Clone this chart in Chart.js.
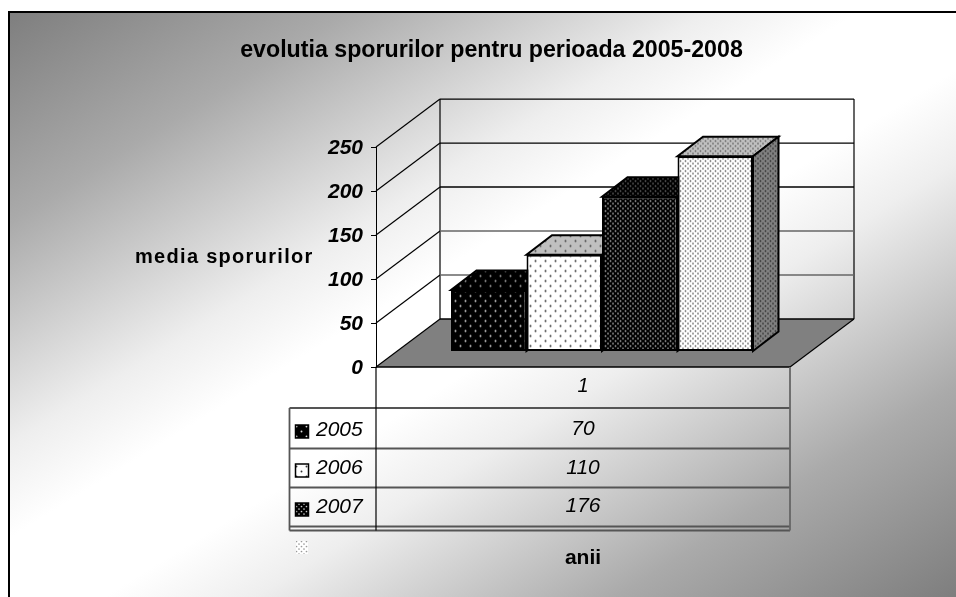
<!DOCTYPE html>
<html><head><meta charset="utf-8">
<style>html,body{margin:0;padding:0;background:#fff}canvas{display:block}</style>
<script src="https://cdn.jsdelivr.net/npm/chart.js@4"></script>
</head><body>
<canvas id="c" width="956" height="597"></canvas>
<script>
const categories = ['1'];
const seriesNames = ['2005', '2006', '2007', '2008'];
const values2005 = [70];
const values2006 = [110];
const values2007 = [176];
const values2008 = [222];
const yTicks = [0, 50, 100, 150, 200, 250];
const titleText = 'evolutia sporurilor pentru perioada 2005-2008';
const yTitle = 'media sporurilor';
const xTitle = 'anii';

const FONT = '"Liberation Sans", Arial, sans-serif';
const WALL = {dx: 64, dy: -48};
const SHIFT = {dx: 19, dy: -15.5};
const DEPTH = {dx: 25.5, dy: -19.5};
const ROWS = {labelX: 316, left: 289.5, divider: 376, right: 790, lines: [408, 448.5, 487.5, 526.5, 530.5]};

function pattern(bg, dot, dense) {
  const period = dense ? 5 : 10, t = document.createElement('canvas');
  t.width = t.height = period;
  const g = t.getContext('2d');
  g.fillStyle = bg; g.fillRect(0, 0, period, period);
  g.fillStyle = dot;
  [[1.5, 1.5], [1.5 + period / 2, 1.5 + period / 2]].forEach(([x, y]) => {
    g.beginPath(); g.arc(x % period, y % period, dense ? 0.85 : 0.95, 0, 7); g.fill();
  });
  return document.createElement('canvas').getContext('2d').createPattern(t, 'repeat');
}
const faces = [
  {front: pattern('#000', '#ddd', false), top: pattern('#000', '#aaa', false), side: pattern('#000', '#aaa', false)},
  {front: pattern('#fff', '#333', false), top: pattern('#c0c0c0', '#444', false), side: pattern('#808080', '#333', false)},
  {front: pattern('#000', '#ccc', true), top: pattern('#000', '#777', true), side: pattern('#000', '#777', true)},
  {front: pattern('#fff', '#444', true), top: pattern('#c0c0c0', '#555', true), side: pattern('#808080', '#222', true)}
];
const palePattern = pattern('#fff', '#999', true);

function poly(ctx, pts, fill, stroke, lw) {
  ctx.beginPath();
  pts.forEach((p, i) => i ? ctx.lineTo(p[0], p[1]) : ctx.moveTo(p[0], p[1]));
  ctx.closePath();
  if (fill) { ctx.fillStyle = fill; ctx.fill(); }
  if (stroke) { ctx.strokeStyle = stroke; ctx.lineWidth = lw || 1; ctx.stroke(); }
}
function line(ctx, x1, y1, x2, y2, color, lw) {
  ctx.beginPath(); ctx.moveTo(x1, y1); ctx.lineTo(x2, y2);
  ctx.strokeStyle = color; ctx.lineWidth = lw || 1; ctx.stroke();
}

const scene = {
  id: 'scene',
  afterLayout(chart) {
    // the original title is centred on the frame, not on the plot area
    chart.titleBlock.left = 26;
    chart.titleBlock.right = 957;
  },
  beforeDraw(chart) {
    const ctx = chart.ctx, W = chart.width, H = chart.height, a = chart.chartArea;
    const y = chart.scales.y;
    ctx.save();
    ctx.fillStyle = '#fff'; ctx.fillRect(0, 0, W, H);
    const g = ctx.createLinearGradient(9, 11, 533.4, 858.5);
    [[0, '#7e7e7e'], [0.18, '#aaaaaa'], [0.37, '#eeeeee'], [0.45, '#ffffff'], [0.55, '#ffffff'], [0.63, '#eeeeee'], [0.82, '#aaaaaa'], [1, '#7e7e7e']]
      .forEach(s => g.addColorStop(s[0], s[1]));
    ctx.fillStyle = g; ctx.fillRect(9, 11, W - 9, H - 11);
    line(ctx, 9, 11, 9, H, '#000', 2);
    line(ctx, 8, 12, W, 12, '#000', 2);
    // floor
    const y0 = y.getPixelForValue(0), yMax = y.getPixelForValue(250);
    poly(ctx, [[a.left, y0], [a.right, y0], [a.right + WALL.dx, y0 + WALL.dy], [a.left + WALL.dx, y0 + WALL.dy]], '#808080');
    // walls
    line(ctx, a.left + WALL.dx, y0 + WALL.dy, a.left + WALL.dx, yMax + WALL.dy, '#000', 1.2);
    line(ctx, a.right + WALL.dx, y0 + WALL.dy, a.right + WALL.dx, yMax + WALL.dy, '#000', 1.2);
    yTicks.forEach(v => {
      const py = y.getPixelForValue(v);
      const col = v >= 150 || v === 0 ? '#000' : '#666';
      line(ctx, a.left, py, a.left + WALL.dx, py + WALL.dy, '#000', 1.2);
      line(ctx, a.left + WALL.dx, py + WALL.dy, a.right + WALL.dx, py + WALL.dy, col, v === 0 ? 1.5 : 1.3);
    });
    line(ctx, a.right, y0, a.right + WALL.dx, y0 + WALL.dy, '#000', 1.2);
    line(ctx, a.left, y0, a.right, y0, '#000', 1.5);
    ctx.restore();
  },
  beforeDatasetsDraw(chart) {
    const ctx = chart.ctx;
    chart.data.datasets.forEach((ds, i) => {
      const meta = chart.getDatasetMeta(i);
      ctx.save();
      ctx.translate(SHIFT.dx, SHIFT.dy);
      meta.data.forEach(bar => {
        const p = bar.getProps(['x', 'y', 'base', 'width'], true);
        const L = p.x - p.width / 2, R = p.x + p.width / 2, T = p.y, B = p.base;
        poly(ctx, [[L, T], [R, T], [R + DEPTH.dx, T + DEPTH.dy], [L + DEPTH.dx, T + DEPTH.dy]], faces[i].top, '#000', 2);
        poly(ctx, [[R, T], [R + DEPTH.dx, T + DEPTH.dy], [R + DEPTH.dx, B + DEPTH.dy], [R, B]], faces[i].side, '#000', 2);
      });
      meta.controller.draw();
      ctx.restore();
    });
    return false;
  },
  afterDraw(chart) {
    const ctx = chart.ctx, a = chart.chartArea, x = chart.scales.x;
    ctx.save();
    // data table
    const bottom = ROWS.lines[4], top = ROWS.lines[0];
    ROWS.lines.forEach(py => line(ctx, ROWS.left, py, ROWS.right, py, '#555', 1.8));
    line(ctx, ROWS.left, top, ROWS.left, bottom, '#555', 1.8);
    line(ctx, ROWS.right, a.bottom, ROWS.right, bottom, '#666', 1.8);
    line(ctx, ROWS.divider, a.bottom, ROWS.divider, bottom, '#000', 1.2);
    const tableCols = [values2005, values2006, values2007];
    const labelY = [430, 468.5, 507], valueY = [429, 468, 506], swatchY = [425, 464, 503];
    ctx.textBaseline = 'middle';
    tableCols.forEach((vals, i) => {
      ctx.font = 'italic 21px ' + FONT;
      ctx.textAlign = 'left';
      ctx.fillStyle = '#000';
      ctx.fillText(seriesNames[i], ROWS.labelX, labelY[i]);
      ctx.textAlign = 'center';
      ctx.fillText(String(vals[0]), x.getPixelForTick(0), valueY[i]);
      ctx.fillStyle = faces[i].front;
      ctx.fillRect(295.5, swatchY[i], 13, 13);
      ctx.strokeStyle = '#000'; ctx.lineWidth = 1.5;
      ctx.strokeRect(295.5, swatchY[i], 13, 13);
    });
    ctx.fillStyle = palePattern;
    ctx.fillRect(296, 541, 12, 13);
    // vertical-axis title, written horizontally
    ctx.fillStyle = '#000';
    ctx.font = 'bold 20px ' + FONT;
    ctx.textAlign = 'left';
    ctx.letterSpacing = '1.3px';
    ctx.fillText(yTitle, 135, 257);
    ctx.restore();
  }
};

new Chart(document.getElementById('c'), {
  type: 'bar',
  data: {
    labels: categories,
    datasets: [values2005, values2006, values2007, values2008].map((data, i) => ({
      label: seriesNames[i], data,
      backgroundColor: faces[i].front,
      borderColor: '#000', borderWidth: 2, borderSkipped: false
    }))
  },
  plugins: [scene],
  options: {
    responsive: false,
    animation: false,
    layout: {padding: {left: 0, right: 166, top: 0, bottom: 0}},
    datasets: {bar: {categoryPercentage: 0.7295, barPercentage: 1}},
    plugins: {
      legend: {display: false},
      tooltip: {enabled: false},
      title: {
        display: true, text: titleText, color: '#000',
        font: {family: FONT, size: 23.2, weight: 'bold', lineHeight: 1.2},
        padding: {top: 37, bottom: 82.2}
      }
    },
    scales: {
      x: {
        grid: {display: false, tickLength: 0}, border: {display: false},
        ticks: {color: '#000', font: {family: FONT, size: 20, style: 'italic'}, padding: 7},
        title: {display: true, text: xTitle, color: '#000', font: {family: FONT, size: 21, weight: 'bold'}, padding: {top: 0, bottom: 26}},
        afterFit: s => { s.height = 230; }
      },
      y: {
        min: 0, max: 250,
        grid: {drawOnChartArea: false, tickLength: 5, color: '#000'},
        border: {color: '#000'},
        ticks: {stepSize: 50, color: '#000', font: {family: FONT, size: 21, weight: 'bold', style: 'italic'}, padding: 8, labelOffset: 1},
        afterFit: s => { s.width = 376; }
      }
    }
  }
});
</script>
</body></html>
